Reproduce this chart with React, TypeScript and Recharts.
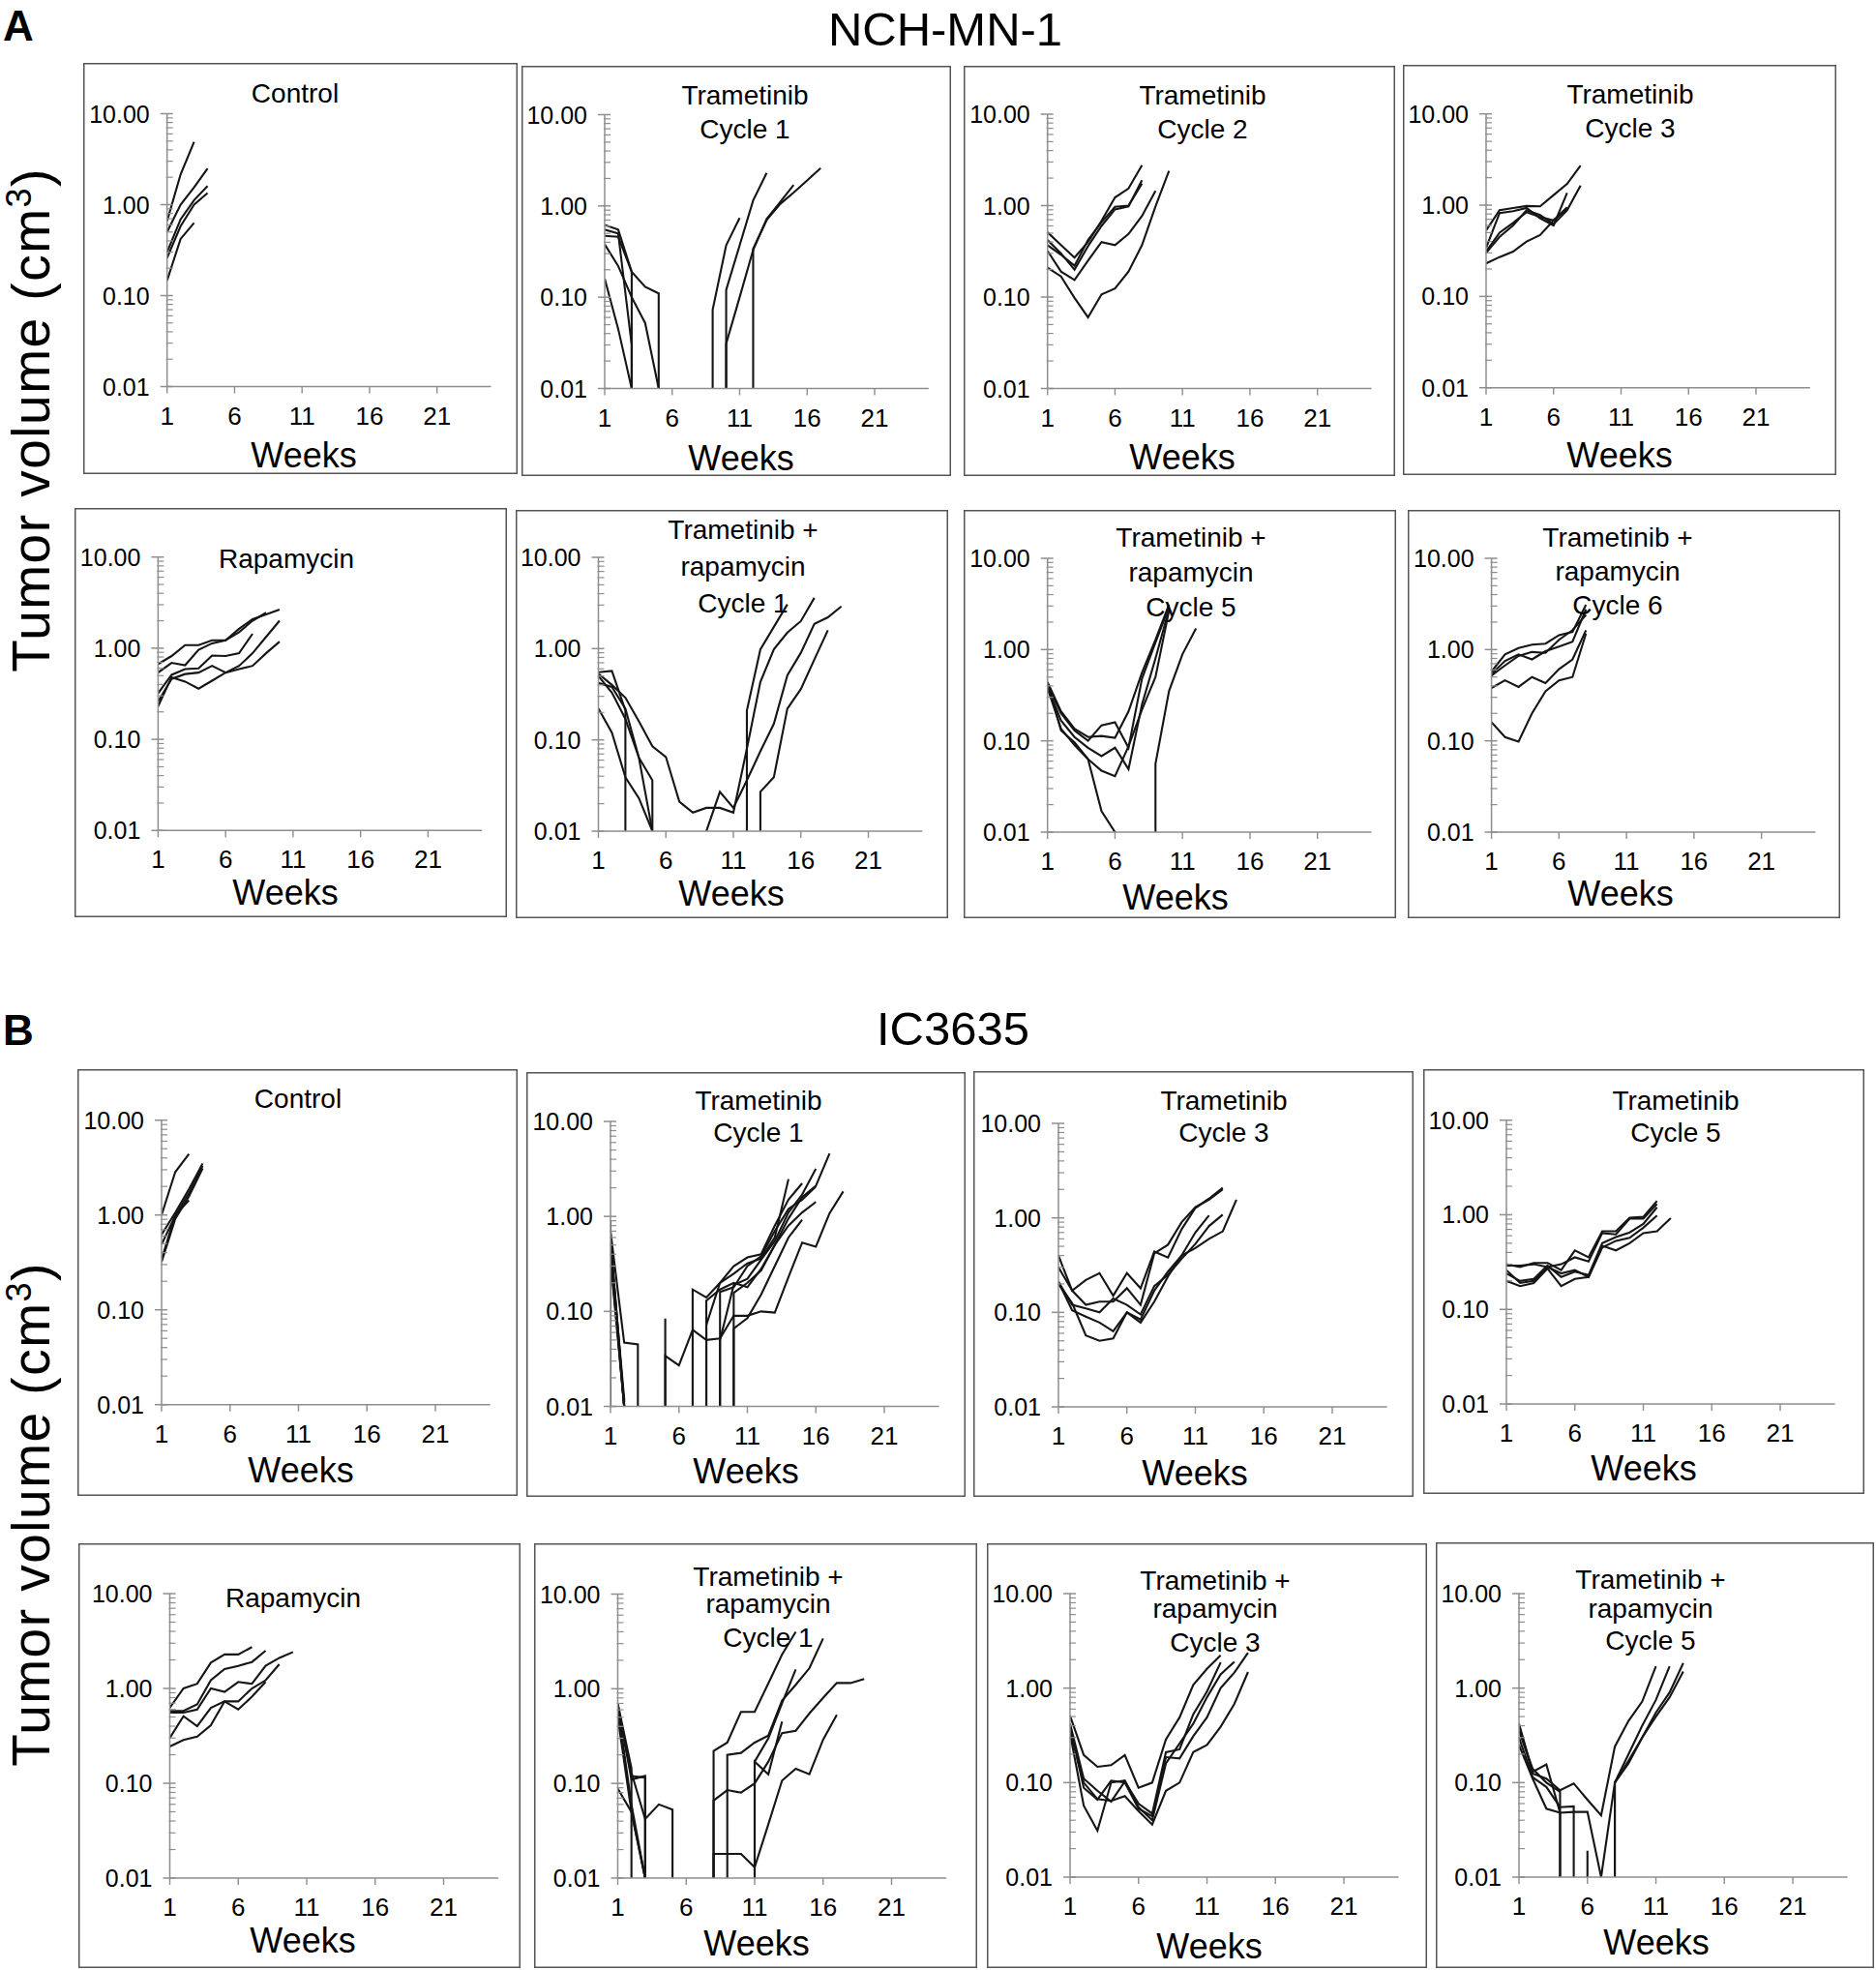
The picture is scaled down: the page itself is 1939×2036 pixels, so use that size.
import React from 'react';
import { LineChart, Line, XAxis, YAxis } from 'recharts';

// ---------- axes ----------
const WEEK_TICKS = [1, 6, 11, 16, 21];
const WEEK_DOMAIN: [number, number] = [1, 25];
const Y_MAJOR = [0.01, 0.1, 1, 10];
const Y_MINOR_STEPS = [2, 3, 4, 5, 6, 7, 8, 9];
const Y_DOMAIN: [number, number] = [0.01, 10];
const FLOOR = 0.001; // undetectable (0) values are drawn down to below the axis, as Excel does

// ---------- data: weekly tumour volumes (cm3), one array per mouse, starting at week 1; 0 = undetectable ----------
const A_CONTROL = [
  [0.66, 2.15, 4.9],
  [0.5, 1.0, 1.55, 2.5],
  [0.3, 0.69, 1.12, 1.6],
  [0.26, 0.58, 1.0, 1.34],
  [0.146, 0.42, 0.63],
];
const A_TRAM_C1 = [
  [0.62, 0.55, 0.19, 0.13, 0.11, 0, 0, 0, 0.073, 0.37, 0.74],
  [0.47, 0.46, 0.19, 0, 0, 0, 0, 0, 0, 0.12, 0.37, 1.15, 2.3],
  [0.38, 0.22, 0.1, 0.052, 0.01, 0, 0, 0, 0, 0.031, 0.1, 0.33, 0.72, 1.1, 1.7],
  [0.16, 0.045, 0.01, 0, 0, 0, 0, 0, 0, 0, 0, 0.34, 0.7, 1.05, 1.4, 1.9, 2.6],
  [0.55, 0.5, 0.03, 0],
];
const A_TRAM_C2 = [
  [0.51, 0.37, 0.27, 0.4, 0.68, 1.23, 1.54, 2.76],
  [0.42, 0.3, 0.2, 0.36, 0.6, 0.91, 0.98, 1.9],
  [0.37, 0.29, 0.22, 0.42, 0.66, 0.97, 1.0, 1.74],
  [0.32, 0.19, 0.154, 0.25, 0.4, 0.37, 0.49, 0.77, 1.45],
  [0.21, 0.168, 0.098, 0.06, 0.107, 0.124, 0.19, 0.37, 0.98, 2.4],
];
const A_TRAM_C3 = [
  [0.53, 0.88, 0.93, 0.98, 0.97, 1.29, 1.71, 2.72],
  [0.34, 0.82, 0.86, 0.93, 0.72, 0.6, 1.36],
  [0.31, 0.5, 0.64, 0.84, 0.74, 0.68, 0.92],
  [0.3, 0.45, 0.6, 0.88, 0.78, 0.62, 0.88, 1.64],
  [0.23, 0.27, 0.31, 0.4, 0.47, 0.68, 0.95],
];
const A_RAPA = [
  [0.67, 0.82, 1.08, 1.08, 1.22, 1.22, 1.5, 2.0, 2.45],
  [0.54, 0.69, 0.65, 0.96, 1.13, 1.22, 1.63, 2.08, 2.35, 2.65],
  [0.32, 0.51, 0.59, 0.6, 0.83, 0.82, 0.88, 1.44],
  [0.26, 0.46, 0.52, 0.54, 0.64, 0.54, 0.64, 0.88, 1.33, 2.0],
  [0.23, 0.48, 0.43, 0.36, 0.44, 0.54, 0.59, 0.64, 0.88, 1.18],
];
const A_TR_C1 = [
  [0.55, 0.57, 0.21, 0, 0, 0, 0, 0, 0, 0, 0, 0.21, 0.98, 1.73, 3.05],
  [0.53, 0.4, 0.29, 0.16, 0.085, 0.065, 0.021, 0.016, 0.018, 0.018, 0.016, 0.08, 0.43, 0.98, 1.5, 2.0, 3.6],
  [0.42, 0.38, 0.22, 0.064, 0.036, 0, 0, 0, 0.01, 0.027, 0.018, 0.036, 0.075, 0.15, 0.51, 0.9, 1.87, 2.2, 2.9],
  [0.5, 0.33, 0.17, 0.064, 0.01, 0, 0, 0, 0, 0, 0, 0, 0.027, 0.039, 0.22, 0.36, 0.76, 1.59],
  [0.22, 0.12, 0.039, 0.023, 0.01],
];
const A_TR_C5 = [
  [0.44, 0.21, 0.136, 0.11, 0.113, 0.108, 0.21, 0.56, 1.28, 3.1],
  [0.41, 0.2, 0.13, 0.1, 0.148, 0.16, 0.084, 0.48, 1.2, 2.9],
  [0.39, 0.167, 0.11, 0.084, 0.068, 0.084, 0.049, 0.25, 0.8, 2.76],
  [0.38, 0.136, 0.09, 0.063, 0.047, 0.041, 0.087, 0.22, 0.5, 2.65],
  [0.43, 0.13, 0.096, 0.063, 0.017, 0.01, 0, 0, 0.056, 0.35, 0.89, 1.7],
];
const A_TR_C6 = [
  [0.575, 0.885, 1.04, 1.13, 1.16, 1.44, 1.56, 3.1],
  [0.54, 0.75, 0.885, 0.78, 0.96, 1.08, 1.22, 2.76],
  [0.52, 0.67, 0.85, 0.94, 0.92, 1.28, 1.63, 2.4],
  [0.38, 0.46, 0.39, 0.5, 0.43, 0.61, 0.78, 1.63],
  [0.16, 0.11, 0.098, 0.2, 0.35, 0.46, 0.5, 1.5],
];
const B_CONTROL = [
  [1.0, 2.84, 4.4],
  [0.62, 1.06, 1.87, 3.5],
  [0.49, 0.98, 1.7, 3.3],
  [0.34, 1.0, 1.43],
  [0.32, 0.91, 1.57, 3.1],
];
const B_TRAM_C1 = [
  [0.9, 0, 0, 0, 0, 0, 0.17, 0.14, 0.2, 0.25, 0.32, 0.36, 0.6, 2.47],
  [0.7, 0.047, 0.045, 0, 0, 0, 0, 0.072, 0.2, 0.3, 0.37, 0.4, 0.8, 1.5, 2.23],
  [0.6, 0.01, 0, 0, 0.084, 0, 0, 0, 0.05, 0.19, 0.22, 0.35, 0.55, 1.1, 1.7, 3.17],
  [0.55, 0.01, 0, 0, 0.034, 0.027, 0.064, 0.05, 0.052, 0.09, 0.09, 0.1, 0.097, 0.23, 0.53, 0.48, 1.08, 1.83],
  [0.5, 0.012, 0, 0, 0, 0, 0, 0, 0, 0.157, 0.2, 0.27, 0.5, 0.95, 1.6, 2.1, 4.6],
  [0.45, 0.01, 0, 0, 0, 0, 0, 0, 0, 0.066, 0.085, 0.15, 0.3, 0.6, 0.92],
  [0.4, 0.01, 0, 0, 0, 0, 0, 0.13, 0.17, 0.2, 0.18, 0.28, 0.5, 0.8, 1.1, 1.42],
  [0.35, 0.01, 0, 0, 0, 0, 0, 0, 0.16, 0.18, 0.3, 0.38, 0.7, 1.2, 1.5, 2.07],
];
const B_TRAM_C3 = [
  [0.4, 0.17, 0.22, 0.26, 0.15, 0.26, 0.18, 0.44, 0.38, 0.76, 1.27, 1.6, 2.08],
  [0.3, 0.17, 0.12, 0.13, 0.13, 0.18, 0.12, 0.42, 0.52, 0.9, 1.3, 1.56, 2.0],
  [0.21, 0.12, 0.11, 0.1, 0.14, 0.12, 0.095, 0.19, 0.25, 0.37, 0.53, 0.82, 1.08],
  [0.21, 0.105, 0.09, 0.078, 0.063, 0.1, 0.084, 0.17, 0.27, 0.4, 0.48, 0.6, 0.72, 1.56],
  [0.2, 0.125, 0.057, 0.05, 0.053, 0.1, 0.078, 0.13, 0.24, 0.4, 0.7, 1.06],
];
const B_TRAM_C5 = [
  [0.3, 0.28, 0.31, 0.31, 0.26, 0.42, 0.355, 0.67, 0.67, 0.93, 0.95, 1.4],
  [0.29, 0.29, 0.3, 0.28, 0.3, 0.355, 0.32, 0.64, 0.62, 0.91, 0.91, 1.3],
  [0.26, 0.19, 0.2, 0.28, 0.24, 0.26, 0.22, 0.45, 0.53, 0.57, 0.73, 0.98],
  [0.2, 0.176, 0.19, 0.27, 0.176, 0.21, 0.22, 0.47, 0.42, 0.5, 0.64, 0.67, 0.92],
  [0.24, 0.2, 0.21, 0.29, 0.22, 0.25, 0.23, 0.5, 0.58, 0.65, 0.8, 1.2],
];
const B_RAPA = [
  [0.625, 1.0, 1.12, 1.87, 2.28, 2.28, 2.73],
  [0.58, 0.58, 0.68, 1.22, 1.6, 1.73, 1.9, 2.5],
  [0.556, 0.556, 0.6, 1.0, 0.92, 1.17, 1.12, 1.73, 2.1, 2.42],
  [0.3, 0.51, 0.4, 0.625, 0.73, 0.73, 1.0, 1.22, 1.8],
  [0.244, 0.286, 0.31, 0.41, 0.73, 0.6, 0.82, 1.17],
];
const B_TR_C1 = [
  [0.7, 0.145, 0],
  [0.68, 0.11, 0.12, 0, 0, 0, 0, 0.22, 0.27, 0.57, 0.57, 1.14, 2.3, 4.0],
  [0.66, 0.12, 0.115, 0, 0, 0, 0, 0, 0.2, 0.21, 0.27, 0.32, 0.75, 1.1, 1.65, 3.4],
  [0.6, 0.13, 0.042, 0.06, 0.053, 0, 0, 0.066, 0.085, 0.08, 0.1, 0.17, 0.34, 0.36, 0.55, 0.8, 1.15, 1.15, 1.27],
  [0.088, 0.05, 0.01, 0, 0, 0, 0, 0.018, 0.018, 0.018, 0.013, 0.037, 0.107, 0.143, 0.125, 0.29, 0.53],
  [0.65, 0.06, 0.01, 0, 0, 0, 0, 0, 0, 0, 0.17, 0.125, 0.45],
  [0.5, 0.05, 0.01, 0, 0, 0, 0, 0, 0, 0, 0.17, 0.3, 0.7, 1.6],
];
const B_TR_C3 = [
  [0.51, 0.196, 0.147, 0.153, 0.196, 0.088, 0.1, 0.286, 0.49, 1.08, 1.6, 2.22],
  [0.42, 0.11, 0.082, 0.063, 0.103, 0.06, 0.047, 0.21, 0.225, 0.53, 0.92, 1.87],
  [0.39, 0.088, 0.066, 0.105, 0.1, 0.053, 0.044, 0.186, 0.18, 0.31, 0.49, 1.0, 1.46, 2.37],
  [0.36, 0.1, 0.067, 0.064, 0.072, 0.05, 0.036, 0.082, 0.1, 0.21, 0.25, 0.39, 0.68, 1.48],
  [0.33, 0.057, 0.031, 0.1, 0.105, 0.055, 0.04, 0.16, 0.26, 0.42, 0.8, 1.4, 1.9],
];
const B_TR_C5 = [
  [0.42, 0.13, 0.156, 0.048, 0, 0, 0, 0.1, 0.16, 0.3, 0.55, 0.9, 1.84],
  [0.4, 0.125, 0.11, 0.083, 0.098, 0.066, 0.045, 0.24, 0.45, 0.72, 1.7],
  [0.3, 0.114, 0.09, 0.055, 0.056, 0],
  [0.25, 0.11, 0.053, 0.048, 0.049, 0.049, 0.01, 0.1, 0.17, 0.3, 0.5, 0.8, 1.5],
  [0.35, 0.14, 0.1, 0.08, 0, 0.019, 0, 0.1, 0.2, 0.4, 0.75, 1.7],
];

// ---------- text ----------
const HEADERS = [
  { letter: 'A', model: 'NCH-MN-1' },
  { letter: 'B', model: 'IC3635' },
];
const Y_LABEL = 'Tumor volume (cm';
const X_LABEL = 'Weeks';

// ---------- layout (page pixels) ----------
type Panel = {
  data: number[][];
  box: [number, number, number, number];
  ax: number; y10: number; y001: number; ppw: number;
  title: [string, number, number][];
  weeks: [number, number];
};
const PA = 279 / 20;
const PB = 283 / 20;
const PANELS: Panel[] = [
  { data: A_CONTROL, box: [86, 65, 449, 425], ax: 172.7, y10: 117.5, y001: 399.5, ppw: PA, title: [['Control', 305, 106]], weeks: [314, 483] },
  { data: A_TRAM_C1, box: [539, 68, 444, 424], ax: 625, y10: 118.5, y001: 401.5, ppw: PA, title: [['Trametinib', 770, 108], ['Cycle 1', 770, 143]], weeks: [766, 486] },
  { data: A_TRAM_C2, box: [996, 68, 446, 424], ax: 1082.7, y10: 118, y001: 401.5, ppw: PA, title: [['Trametinib', 1243, 108], ['Cycle 2', 1243, 143]], weeks: [1222, 485] },
  { data: A_TRAM_C3, box: [1450, 67, 448, 424], ax: 1536, y10: 117.7, y001: 400.7, ppw: PA, title: [['Trametinib', 1685, 107], ['Cycle 3', 1685, 142]], weeks: [1674, 483] },
  { data: A_RAPA, box: [77, 525, 447, 423], ax: 163.4, y10: 575.7, y001: 858.3, ppw: PA, title: [['Rapamycin', 296, 587]], weeks: [295, 935] },
  { data: A_TR_C1, box: [533, 527, 447, 422], ax: 618.5, y10: 576, y001: 859, ppw: PA, title: [['Trametinib +', 768, 557], ['rapamycin', 768, 595], ['Cycle 1', 768, 633]], weeks: [756, 936] },
  { data: A_TR_C5, box: [996, 527, 447, 422], ax: 1082.7, y10: 577, y001: 860, ppw: PA, title: [['Trametinib +', 1231, 565], ['rapamycin', 1231, 601], ['Cycle 5', 1231, 637]], weeks: [1215, 940] },
  { data: A_TR_C6, box: [1455, 527, 447, 422], ax: 1541.6, y10: 577, y001: 860, ppw: PA, title: [['Trametinib +', 1672, 565], ['rapamycin', 1672, 600], ['Cycle 6', 1672, 635]], weeks: [1675, 936] },
  { data: B_CONTROL, box: [80, 1105, 455, 441], ax: 167, y10: 1157.7, y001: 1451.7, ppw: PB, title: [['Control', 308, 1145]], weeks: [311, 1532] },
  { data: B_TRAM_C1, box: [544, 1108, 454, 439], ax: 631, y10: 1159, y001: 1453.5, ppw: PB, title: [['Trametinib', 784, 1147], ['Cycle 1', 784, 1180]], weeks: [771, 1533] },
  { data: B_TRAM_C3, box: [1006, 1107, 455, 440], ax: 1094, y10: 1161, y001: 1454, ppw: PB, title: [['Trametinib', 1265, 1147], ['Cycle 3', 1265, 1180]], weeks: [1235, 1535] },
  { data: B_TRAM_C5, box: [1471, 1105, 456, 439], ax: 1557, y10: 1157.7, y001: 1451, ppw: PB, title: [['Trametinib', 1732, 1147], ['Cycle 5', 1732, 1180]], weeks: [1699, 1530] },
  { data: B_RAPA, box: [81, 1595, 457, 439], ax: 175.5, y10: 1647, y001: 1941, ppw: PB, title: [['Rapamycin', 303, 1661]], weeks: [313, 2018] },
  { data: B_TR_C1, box: [552, 1595, 458, 439], ax: 638.5, y10: 1647.5, y001: 1941, ppw: PB, title: [['Trametinib +', 794, 1639], ['rapamycin', 794, 1667], ['Cycle 1', 794, 1702]], weeks: [782, 2021] },
  { data: B_TR_C3, box: [1020, 1595, 455, 439], ax: 1106, y10: 1647, y001: 1940, ppw: PB, title: [['Trametinib +', 1256, 1643], ['rapamycin', 1256, 1672], ['Cycle 3', 1256, 1707]], weeks: [1250, 2024] },
  { data: B_TR_C5, box: [1484, 1594, 453, 440], ax: 1570, y10: 1647, y001: 1940, ppw: PB, title: [['Trametinib +', 1706, 1642], ['rapamycin', 1706, 1672], ['Cycle 5', 1706, 1705]], weeks: [1712, 2020] },
];

const FONT = '"Liberation Sans", Arial, Helvetica, sans-serif';
const AXIS_GRAY = '#8e8e8e';
const LINE_COLOR = '#151515';

const Y_TICKS: number[] = (() => {
  const t: number[] = [];
  Y_MAJOR.forEach((m, i) => {
    t.push(m);
    if (i < Y_MAJOR.length - 1) Y_MINOR_STEPS.forEach((s) => t.push(+(m * s).toPrecision(6)));
  });
  return t;
})();
const isMajor = (v: number) => Y_MAJOR.some((m) => Math.abs(v - m) / m < 1e-6);

// Excel-style drawing of zeros on a log axis: vertical drop/rise at the adjacent measured week
function toPoints(vals: number[]) {
  const pts: { x: number; y: number }[] = [];
  let prev: number | null = null;
  vals.forEach((v, i) => {
    const wk = 1 + i;
    if (v > 0) {
      if (prev === 0) pts.push({ x: wk, y: FLOOR });
      pts.push({ x: wk, y: v });
    } else if (prev !== null && prev > 0) {
      pts.push({ x: wk - 1, y: FLOOR });
    }
    prev = v;
  });
  return pts;
}

const YTick = (props: any) => {
  const { x, y, payload } = props;
  const v = payload.value as number;
  const major = isMajor(v);
  return (
    <g>
      <line x1={major ? x - 7 : x - 1} x2={x + 6} y1={y} y2={y} stroke={AXIS_GRAY} strokeWidth={major ? 1.5 : 1.2} />
      {major && (
        <text x={x - 18} y={y + 9} textAnchor="end" fontSize={25} fontFamily={FONT} fill="#000">
          {v.toFixed(2)}
        </text>
      )}
    </g>
  );
};

const XTick = (props: any) => {
  const { x, y, payload } = props;
  return (
    <g>
      <line x1={x} x2={x} y1={y} y2={y + 7} stroke={AXIS_GRAY} strokeWidth={1.4} />
      <text x={x} y={y + 39} textAnchor="middle" fontSize={26} fontFamily={FONT} fill="#000">
        {payload.value}
      </text>
    </g>
  );
};

function PanelChart({ p }: { p: Panel }) {
  const [bx, by, bw, bh] = p.box;
  const yw = p.ax - bx;
  const mt = p.y10 - by;
  const plotH = p.y001 - p.y10;
  const xh = 50;
  const mb = bh - mt - plotH - xh;
  const plotW = 24 * p.ppw;
  const mr = bw - yw - plotW;
  return (
    <div style={{ position: 'absolute', left: bx, top: by, width: bw, height: bh }}>
      <LineChart width={bw} height={bh} margin={{ top: mt, right: mr, bottom: mb, left: 0 }}>
        <XAxis
          type="number"
          dataKey="x"
          domain={WEEK_DOMAIN}
          ticks={WEEK_TICKS}
          allowDataOverflow
          interval={0}
          height={xh}
          tickSize={0}
          tickMargin={0}
          tickLine={false}
          tick={<XTick />}
          axisLine={{ stroke: AXIS_GRAY, strokeWidth: 1.5 }}
        />
        <YAxis
          type="number"
          scale="log"
          domain={Y_DOMAIN}
          ticks={Y_TICKS}
          allowDataOverflow
          interval={0}
          width={yw}
          tickSize={0}
          tickMargin={0}
          tickLine={false}
          tick={<YTick />}
          axisLine={{ stroke: AXIS_GRAY, strokeWidth: 1.5 }}
        />
        {p.data.map((vals, i) => (
          <Line
            key={i}
            data={toPoints(vals)}
            dataKey="y"
            type="linear"
            stroke={LINE_COLOR}
            strokeWidth={2.1}
            dot={false}
            activeDot={false}
            isAnimationActive={false}
          />
        ))}
      </LineChart>
    </div>
  );
}

export default function App() {
  return (
    <div style={{ position: 'absolute', left: 0, top: 0, width: 1939, height: 2036, background: '#fff', overflow: 'hidden' }}>
      {PANELS.map((p, i) => (
        <PanelChart key={i} p={p} />
      ))}
      <svg width={1939} height={2036} style={{ position: 'absolute', left: 0, top: 0, pointerEvents: 'none' }} fontFamily={FONT}>
        {PANELS.map((p, i) => {
          const [bx, by, bw, bh] = p.box;
          return (
            <g key={i}>
              <rect x={bx + 0.75} y={by + 0.75} width={bw - 1.5} height={bh - 1.5} fill="none" stroke="#555" strokeWidth={1.5} />
              {p.title.map(([t, x, y], j) => (
                <text key={j} x={x} y={y} textAnchor="middle" fontSize={28} fill="#000">{t}</text>
              ))}
              <text x={p.weeks[0]} y={p.weeks[1]} textAnchor="middle" fontSize={36} fill="#000">{X_LABEL}</text>
            </g>
          );
        })}
        {/* section headers */}
        <text x={3} y={42} fontSize={44} fontWeight="bold" fill="#000">{HEADERS[0].letter}</text>
        <text x={977} y={47} textAnchor="middle" fontSize={49} fill="#000">{HEADERS[0].model}</text>
        <text x={3} y={1080} fontSize={44} fontWeight="bold" fill="#000">{HEADERS[1].letter}</text>
        <text x={985} y={1080} textAnchor="middle" fontSize={49} fill="#000">{HEADERS[1].model}</text>
        {/* y-axis titles */}
        {[434, 1565].map((cy, i) => (
          <text key={i} transform={`translate(51, ${cy}) rotate(-90)`} textAnchor="middle" fontSize={55} letterSpacing={1.5} fill="#000">
            {Y_LABEL}
            <tspan dy={-19} fontSize={36}>3</tspan>
            <tspan dy={19}>)</tspan>
          </text>
        ))}
      </svg>
    </div>
  );
}
